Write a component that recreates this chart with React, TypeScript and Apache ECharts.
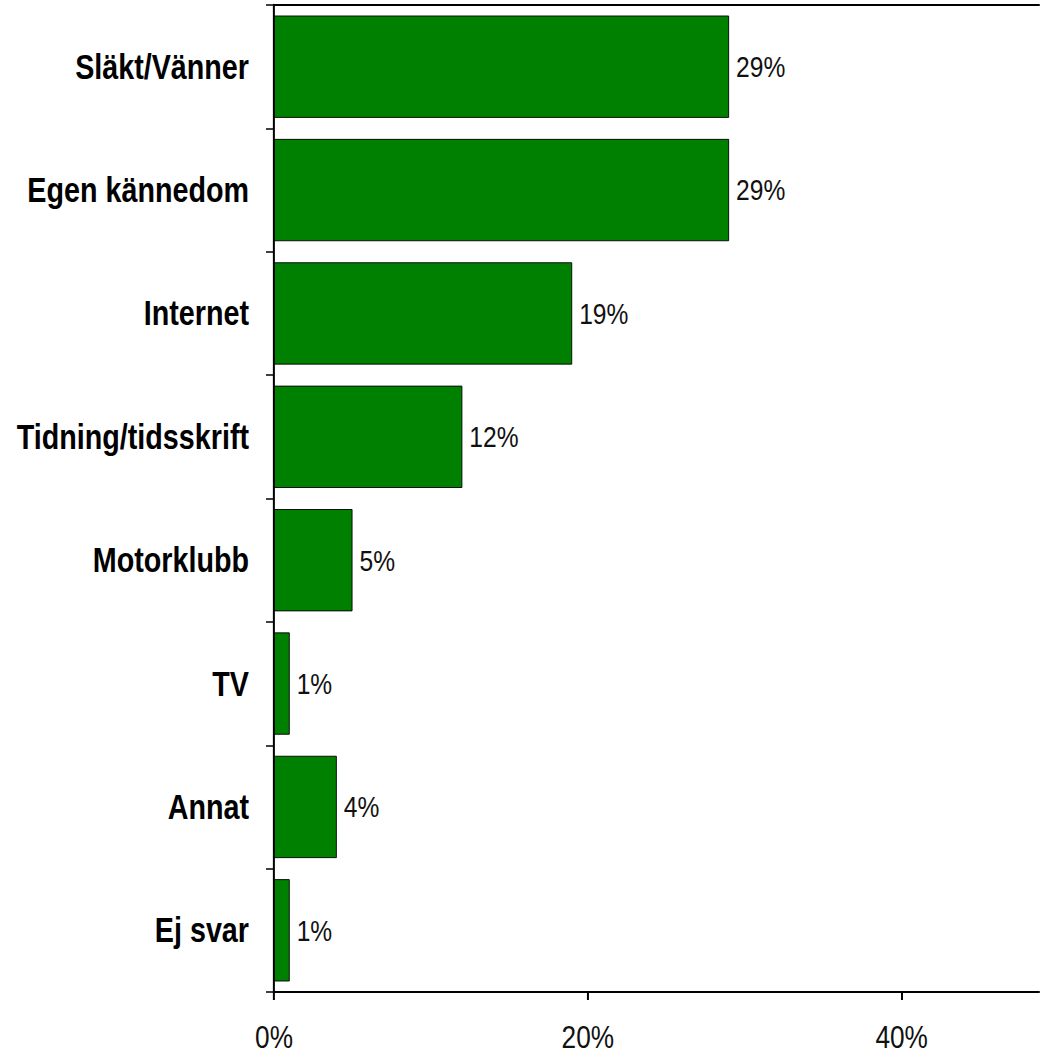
import React, { useEffect, useRef } from "react";
import * as echarts from "echarts";

const categories = [
  "Släkt/Vänner",
  "Egen kännedom",
  "Internet",
  "Tidning/tidsskrift",
  "Motorklubb",
  "TV",
  "Annat",
  "Ej svar",
];
const values = [29, 29, 19, 12, 5, 1, 4, 1];
const xTicks = [0, 20, 40];
const xMax = 48.8;

// The reference uses a narrow (condensed) face; emulate it by compressing horizontally.
const S = 0.82;
const W = 1040 / S;
const FONT = '"Liberation Sans", Arial, sans-serif';

export default function App() {
  const ref = useRef<HTMLDivElement>(null);
  useEffect(() => {
    document.body.style.margin = "0";
    document.body.style.overflow = "hidden";
    if (!ref.current) return;
    const chart = echarts.init(ref.current, undefined, { renderer: "svg" });
    const left = 274 / S;
    chart.setOption({
      animation: false,
      grid: { left, right: 0, top: 5, bottom: 64, containLabel: false },
      xAxis: [
        {
          type: "value",
          min: 0,
          max: xMax,
          position: "bottom",
          splitLine: { show: false },
          axisLine: { show: true, lineStyle: { color: "#000", width: 2 } },
          axisTick: {
            show: true,
            length: 8,
            customValues: xTicks,
            lineStyle: { color: "#000", width: 2 / S },
          },
          axisLabel: {
            customValues: xTicks,
            formatter: (v: number) => v + "%",
            color: "#111",
            fontSize: 32,
            fontFamily: FONT,
            margin: 29,
          },
        },
        {
          type: "value",
          min: 0,
          max: xMax,
          position: "top",
          splitLine: { show: false },
          axisLine: { show: true, lineStyle: { color: "#000", width: 2 } },
          axisTick: { show: false },
          axisLabel: { show: false },
        },
      ],
      yAxis: {
        type: "category",
        inverse: true,
        data: categories,
        axisLine: { show: true, lineStyle: { color: "#000", width: 2 / S } },
        axisTick: { show: true, length: 8 / S, alignWithLabel: false, lineStyle: { color: "#000", width: 1.5 } },
        axisLabel: {
          color: "#000",
          fontSize: 35,
          fontWeight: "bold",
          fontFamily: FONT,
          margin: 25 / S,
        },
      },
      series: [
        {
          type: "bar",
          data: values,
          barWidth: "83%",
          itemStyle: { color: "#008000", borderColor: "#000", borderWidth: 1 },
          label: {
            show: true,
            position: "right",
            distance: 7 / S,
            formatter: "{c}%",
            color: "#111",
            fontSize: 30,
            fontFamily: FONT,
          },
        },
      ],
    });
    return () => chart.dispose();
  }, []);
  return (
    <div style={{ width: 1040, height: 1056, overflow: "hidden", position: "relative" }}>
      <div
        ref={ref}
        style={{
          width: W,
          height: 1056,
          transform: `scaleX(${S})`,
          transformOrigin: "0 0",
          position: "absolute",
          left: 0,
          top: 0,
        }}
      />
    </div>
  );
}
